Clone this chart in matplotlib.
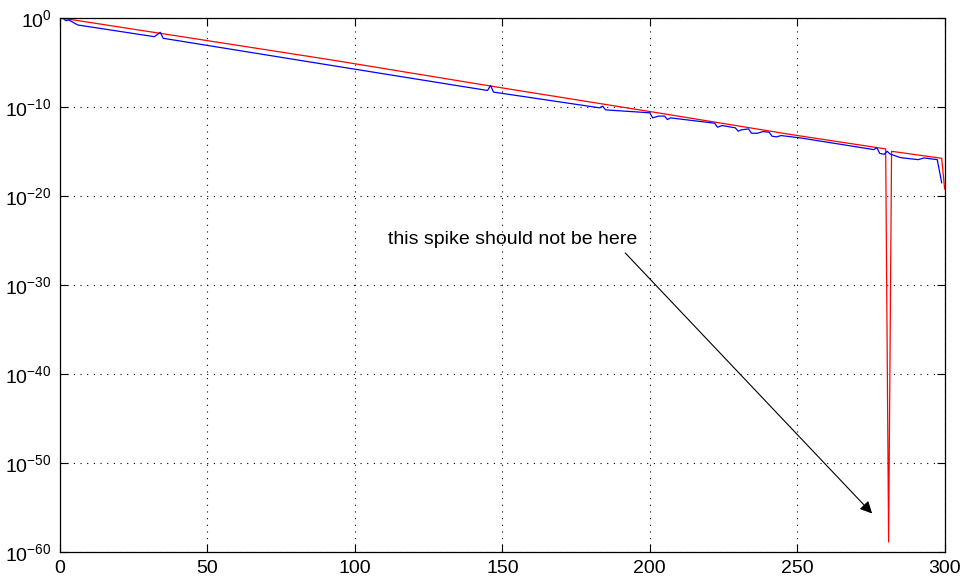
import numpy as np
import matplotlib
matplotlib.use('Agg')
import matplotlib.pyplot as plt

plt.rcParams['font.family'] = ['Liberation Sans', 'DejaVu Sans']
plt.rcParams['mathtext.fontset'] = 'custom'
plt.rcParams['mathtext.rm'] = 'Liberation Sans'

# red curve: vertices (x, log10 of value)
red_x = [1, 41, 92, 149, 204, 248, 280, 281, 282, 299, 300]
red_log = [0, -2.05, -4.68, -7.78, -10.70, -13.08, -14.69, -58.9, -14.96, -15.75, -19.2]

# blue curve: vertices (x, log10 of value)
blue_x = [1, 2, 3, 5, 6, 32, 34, 35, 92, 145, 146, 147, 183, 184, 185, 200,
          201, 203, 205, 206, 207, 222, 223, 224.5, 229, 230, 231, 233.5,
          234.5, 236.5, 238.5, 240.5, 241.5, 243, 244.5, 251, 276, 277, 278,
          279.5, 280.5, 281.5, 285, 291, 293, 297.5, 299]
blue_log = [0, -0.27, -0.19, -0.56, -0.75, -2.07, -1.58, -2.25, -5.3, -8.12,
            -7.55, -8.3, -10.07, -9.88, -10.3, -10.63, -11.2, -11.0, -11.0,
            -11.39, -11.2, -11.8, -12.25, -12.06, -12.32, -12.7, -12.55,
            -12.44, -12.93, -12.93, -12.74, -12.82, -13.27, -13.34, -13.19,
            -13.45, -14.77, -14.55, -15.2, -15.3, -14.96, -15.27, -15.67,
            -15.9, -15.71, -15.9, -18.5]

x_ticks = [0, 50, 100, 150, 200, 250, 300]
y_exps = [-60, -50, -40, -30, -20, -10, 0]
y_tick_labels = [r'$\mathregular{10^{%d}}$' % e for e in y_exps]

note_text = 'this spike should not be here'

fig = plt.figure(figsize=(9.6, 5.77), dpi=100)
ax = fig.add_axes([0.0625, 0.0438, 0.9215, 0.9245])

ax.plot(red_x, 10.0 ** np.array(red_log), color='red', lw=0.9)
ax.plot(blue_x, 10.0 ** np.array(blue_log), color='blue', lw=0.9)

ax.set_yscale('log')
ax.set_xlim(0, 300)
ax.set_ylim(1e-60, 1e0)
ax.set_xticks(x_ticks)
ax.set_xticklabels([str(v) for v in x_ticks])
ax.set_yticks([10.0 ** e for e in y_exps])
ax.set_yticklabels(y_tick_labels)
ax.yaxis.set_minor_locator(matplotlib.ticker.NullLocator())

ax.tick_params(direction='in', length=6, width=0.8, labelsize=14,
               top=True, right=True, pad=6)
ax.grid(True, color='black', linestyle=(0, (1, 5)), linewidth=0.8)
for s in ax.spines.values():
    s.set_linewidth(0.9)

ax.text(111.3, 10 ** -24.9, note_text, fontsize=14, ha='left', va='center')
ax.annotate('', xy=(275.4, 10 ** -55.7), xytext=(191.7, 10 ** -26.4),
            arrowprops=dict(arrowstyle='-|>', color='black', lw=0.8,
                            mutation_scale=18, shrinkA=0, shrinkB=0))

fig.savefig('out.png', dpi=100)
